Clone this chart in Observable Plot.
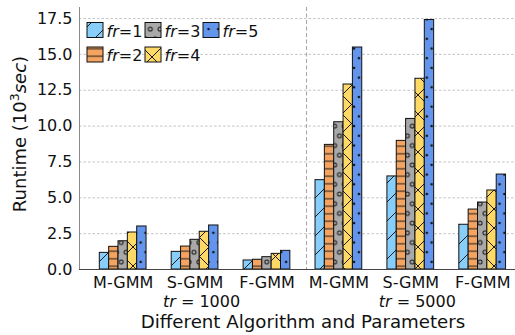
<!DOCTYPE html>
<html>
<head>
<meta charset="utf-8">
<script src="https://cdn.jsdelivr.net/npm/d3@7"></script>
<script src="https://cdn.jsdelivr.net/npm/@observablehq/plot@0.6"></script>
<style>
  body { margin: 0; background: #fff; }
  #chart { width: 515px; height: 335px; overflow: hidden; }
</style>
</head>
<body>
<!-- hatch fills shared by the bars and the legend swatches -->
<svg width="0" height="0" style="position:absolute">
  <defs>
    <pattern id="hatch-1" patternUnits="userSpaceOnUse" width="19" height="19">
      <rect width="19" height="19" fill="#87cefa"/>
      <path d="M-1,20 L20,-1 M-2,2 L2,-2 M17,21 L21,17" stroke="#1a1a1a" stroke-width="1"/>
    </pattern>
    <pattern id="hatch-2" patternUnits="userSpaceOnUse" width="10" height="7.5">
      <rect width="10" height="7.5" fill="#f4a460"/>
      <path d="M-1,3.75 L11,3.75" stroke="#1a1a1a" stroke-width="1"/>
    </pattern>
    <pattern id="hatch-3" patternUnits="userSpaceOnUse" width="9.7" height="19.4">
      <rect width="9.7" height="19.4" fill="#a9a9a9"/>
      <g fill="none" stroke="#1a1a1a" stroke-width="1">
        <circle cx="0" cy="0" r="2"/><circle cx="9.7" cy="0" r="2"/>
        <circle cx="0" cy="19.4" r="2"/><circle cx="9.7" cy="19.4" r="2"/>
        <circle cx="4.85" cy="9.7" r="2"/>
      </g>
    </pattern>
    <pattern id="hatch-4" patternUnits="userSpaceOnUse" width="19" height="19">
      <rect width="19" height="19" fill="#ffd966"/>
      <path d="M-1,-1 L20,20 M-1,20 L20,-1" stroke="#1a1a1a" stroke-width="1"/>
    </pattern>
    <pattern id="hatch-5" patternUnits="userSpaceOnUse" width="9.7" height="19.4">
      <rect width="9.7" height="19.4" fill="#6495ed"/>
      <g fill="#111">
        <circle cx="0" cy="0" r="1.3"/><circle cx="9.7" cy="0" r="1.3"/>
        <circle cx="0" cy="19.4" r="1.3"/><circle cx="9.7" cy="19.4" r="1.3"/>
        <circle cx="4.85" cy="9.7" r="1.3"/>
      </g>
    </pattern>
  </defs>
</svg>
<div id="chart"></div>
<script>
// Algorithms along the x axis (two blocks of three: tr = 1000, tr = 5000)
const algorithms = ["M-GMM", "S-GMM", "F-GMM", "M-GMM", "S-GMM", "F-GMM"];
const trLabels = ["1000", "5000"];
const frLabels = ["1", "2", "3", "4", "5"];

// Runtime in 10^3 sec for each fr value
const fr1 = [1.16, 1.23, 0.63, 6.23, 6.49, 3.12];
const fr2 = [1.58, 1.60, 0.68, 8.69, 8.97, 4.18];
const fr3 = [1.97, 2.07, 0.86, 10.27, 10.50, 4.67];
const fr4 = [2.58, 2.63, 1.09, 12.90, 13.30, 5.51];
const fr5 = [3.00, 3.07, 1.30, 15.48, 17.40, 6.62];

const yTicks = [0, 2.5, 5, 7.5, 10, 12.5, 15, 17.5];

const series = [fr1, fr2, fr3, fr4, fr5];
const groupIdx = algorithms.map((_, i) => i);
const barW = 0.13;          // width of one bar in group units
const separator = 2.55;     // dashed line between the two tr blocks

const bars = series.map((vals, k) =>
  Plot.rect(groupIdx, {
    x1: i => i + (k - 2) * barW - barW / 2,
    x2: i => i + (k - 2) * barW + barW / 2,
    y1: 0,
    y2: i => vals[i],
    fill: `url(#hatch-${k + 1})`,
    stroke: "#111",
    strokeWidth: 1
  })
);

const chart = Plot.plot({
  width: 515,
  height: 335,
  marginLeft: 79,
  marginRight: 0,
  marginTop: 7,
  marginBottom: 66,
  style: { fontFamily: "DejaVu Sans", fontSize: "16px", color: "#111", background: "white" },
  x: { domain: [-0.6075, 5.4564] },
  y: { domain: [0, 18.27] },
  marks: [
    Plot.gridY(yTicks, { stroke: "#b5b5b5", strokeOpacity: 1, strokeWidth: 0.8, strokeDasharray: "2.5,2" }),
    Plot.ruleX([separator], { stroke: "#a8a8a8", strokeWidth: 1.1, strokeDasharray: "4,2.5" }),
    ...bars,
    Plot.ruleX([-0.6075], { stroke: "#8a8a8a", strokeWidth: 1 }),
    Plot.ruleY([0], { stroke: "#444", strokeWidth: 1 }),
    Plot.axisY(yTicks, { tickFormat: d3.format(".1f"), tickSize: 0, tickPadding: 7, label: null, fontSize: 16 }),
    Plot.axisX(groupIdx, { tickFormat: i => algorithms[i], tickSize: 0, tickPadding: 7, label: null, fontSize: 16 })
  ]
});

document.getElementById("chart").appendChild(chart);

const svg = d3.select(chart);
const sx = chart.scale("x");
const font = "DejaVu Sans";

// tr = ... labels under the middle algorithm of each block
trLabels.forEach((tr, j) => {
  const t = svg.append("text")
    .attr("x", sx.apply(1 + 3 * j) + 7)
    .attr("y", 306.5)
    .attr("text-anchor", "middle")
    .attr("font-family", font)
    .attr("font-size", 16)
    .attr("fill", "#111");
  t.append("tspan").attr("font-style", "italic").text("tr");
  t.append("tspan").text(" = " + tr);
});

// x axis title
svg.append("text")
  .attr("x", 303)
  .attr("y", 327.5)
  .attr("text-anchor", "middle")
  .attr("font-family", font)
  .attr("font-size", 18.2)
  .attr("fill", "#111")
  .text("Different Algorithm and Parameters");

// y axis title with superscript and italic unit
const yl = svg.append("text")
  .attr("transform", "translate(26,134) rotate(-90)")
  .attr("text-anchor", "middle")
  .attr("font-family", font)
  .attr("font-size", 18)
  .attr("fill", "#111");
yl.append("tspan").text("Runtime (10");
yl.append("tspan").attr("font-size", 12.6).attr("dy", -7).text("3");
yl.append("tspan").attr("dy", 7).attr("font-style", "italic").text("sec");
yl.append("tspan").text(")");

// legend: three columns, two rows (fr=1, fr=2 | fr=3, fr=4 | fr=5)
const legend = svg.append("g");
frLabels.forEach((fr, k) => {
  const col = Math.floor(k / 2), row = k % 2;
  const x = 87 + col * 58, y = 22.5 + row * 24.5;
  legend.append("rect")
    .attr("x", x).attr("y", y).attr("width", 16).attr("height", 15)
    .attr("fill", `url(#hatch-${k + 1})`)
    .attr("stroke", "#111").attr("stroke-width", 1);
  const t = legend.append("text")
    .attr("x", x + 19.5).attr("y", y + 14)
    .attr("text-anchor", "start")
    .attr("font-family", font).attr("font-size", 16).attr("fill", "#111");
  t.append("tspan").attr("font-style", "italic").text("fr");
  t.append("tspan").text("=" + fr);
});
</script>
</body>
</html>
